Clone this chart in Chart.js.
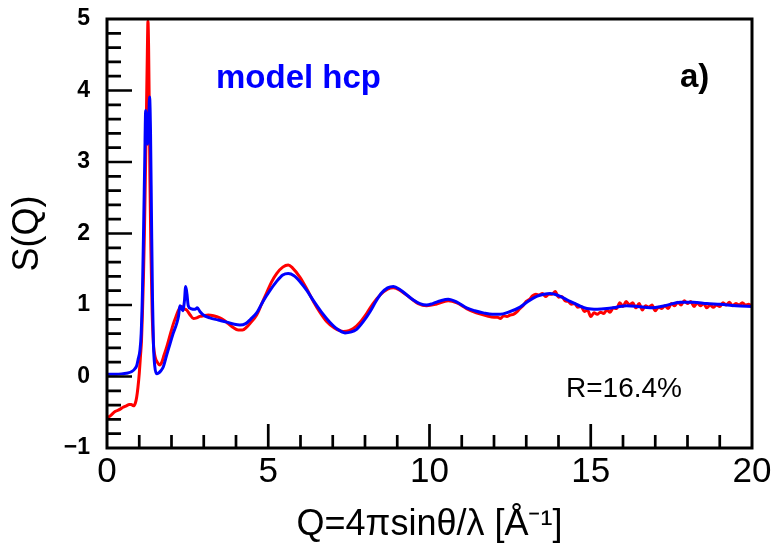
<!DOCTYPE html>
<html>
<head>
<meta charset="utf-8">
<script src="https://cdn.jsdelivr.net/npm/chart.js@4.4.1/dist/chart.umd.min.js"></script>
<style>
  html, body { margin: 0; padding: 0; background: #fff; }
  canvas { display: block; }
</style>
</head>
<body>
<canvas id="sq" width="773" height="551"></canvas>
<script>
// experiment (red)
const qExp = [0, 0.1, 0.25, 0.4, 0.5, 0.6, 0.69, 0.75, 0.82, 0.88, 0.92, 0.96, 1.0, 1.04, 1.07, 1.1, 1.13, 1.16, 1.19, 1.22, 1.25, 1.27, 1.29, 1.31, 1.33, 1.36, 1.4, 1.44, 1.5, 1.56, 1.64, 1.7, 1.77, 1.85, 1.95, 2.06, 2.14, 2.21, 2.27, 2.32, 2.38, 2.47, 2.58, 2.68, 2.78, 2.88, 3.0, 3.14, 3.3, 3.5, 3.65, 3.76, 3.9, 4.07, 4.2, 4.33, 4.45, 4.64, 4.8, 4.95, 5.1, 5.26, 5.45, 5.62, 5.75, 5.98, 6.2, 6.4, 6.6, 6.81, 7.05, 7.33, 7.5, 7.64, 7.85, 8.05, 8.25, 8.47, 8.7, 8.88, 9.1, 9.4, 9.65, 9.91, 10.2, 10.58, 10.85, 11.15, 11.45, 11.77, 12.0,
  12.1, 12.2, 12.3, 12.4, 12.5, 12.6, 12.7, 12.8, 12.9, 13.0, 13.1, 13.2, 13.3, 13.4, 13.5, 13.6, 13.7, 13.8, 13.9, 14.0, 14.1, 14.2, 14.3, 14.4, 14.5, 14.6, 14.7, 14.8, 14.9, 15.0, 15.1, 15.2, 15.3, 15.4, 15.5, 15.6, 15.7, 15.8, 15.9, 16.0, 16.1, 16.2, 16.3, 16.4, 16.5, 16.6, 16.7, 16.8, 16.9, 17.0, 17.1, 17.2, 17.3, 17.4, 17.5, 17.6, 17.7, 17.8, 17.9, 18.0, 18.1, 18.2, 18.3, 18.4, 18.5, 18.6, 18.7, 18.8, 18.9, 19.0, 19.1, 19.2, 19.3, 19.4, 19.5, 19.6, 19.7, 19.8, 19.9, 20.0];
const sExp = [-0.58, -0.55, -0.49, -0.46, -0.43, -0.41, -0.39, -0.39, -0.41, -0.37, -0.29, -0.15, 0.04, 0.3, 0.5, 0.9, 1.39, 2.0, 2.8, 3.6, 4.5, 4.97, 4.6, 3.8, 2.8, 1.8, 0.9, 0.46, 0.26, 0.2, 0.16, 0.2, 0.3, 0.41, 0.57, 0.74, 0.84, 0.92, 0.97, 0.98, 0.95, 0.93, 0.86, 0.81, 0.82, 0.84, 0.85, 0.86, 0.85, 0.82, 0.78, 0.74, 0.69, 0.65, 0.65, 0.69, 0.75, 0.86, 1.02, 1.17, 1.32, 1.44, 1.53, 1.56, 1.52, 1.39, 1.22, 1.05, 0.9, 0.77, 0.68, 0.63, 0.64, 0.67, 0.76, 0.88, 1.02, 1.14, 1.22, 1.24, 1.2, 1.1, 1.02, 0.99, 1.01, 1.06, 1.03, 0.95, 0.89, 0.85, 0.83,
  0.83, 0.81, 0.85, 0.84, 0.86, 0.87, 0.9, 0.95, 0.99, 1.05, 1.08, 1.13, 1.15, 1.14, 1.16, 1.12, 1.15, 1.15, 1.19, 1.11, 1.12, 1.06, 1.05, 1.01, 1.02, 0.97, 0.98, 0.91, 0.93, 0.84, 0.89, 0.87, 0.9, 0.88, 0.93, 0.9, 0.96, 0.95, 1.03, 0.98, 1.05, 1.0, 1.03, 0.96, 1.02, 0.93, 0.99, 0.97, 1.0, 0.92, 0.97, 0.95, 0.99, 0.95, 1.02, 0.99, 1.04, 1.0, 1.06, 1.02, 1.05, 0.98, 1.03, 0.99, 1.02, 0.96, 1.0, 0.97, 1.0, 0.98, 1.03, 1.0, 1.04, 0.99, 1.02, 1.0, 1.03, 1.0, 1.01, 0.98];

// model hcp (blue)
const qModel = [0, 0.3, 0.5, 0.65, 0.77, 0.85, 0.92, 0.97, 1.02, 1.06, 1.1, 1.14, 1.17, 1.2, 1.23, 1.26, 1.29, 1.32, 1.35, 1.38, 1.41, 1.44, 1.48, 1.54, 1.6, 1.67, 1.75, 1.85, 1.95, 2.05, 2.16, 2.22, 2.26, 2.3, 2.35, 2.4, 2.44, 2.48, 2.52, 2.6, 2.73, 2.8, 2.88, 2.99, 3.19, 3.45, 3.71, 3.95, 4.12, 4.3, 4.45, 4.64, 4.85, 5.05, 5.26, 5.45, 5.62, 5.8, 5.98, 6.2, 6.4, 6.65, 6.91, 7.15, 7.38, 7.55, 7.74, 7.95, 8.16, 8.35, 8.52, 8.7, 8.88, 9.1, 9.3, 9.5, 9.7, 9.91, 10.1, 10.35, 10.58, 10.85, 11.15, 11.4, 11.67, 11.95, 12.19, 12.45, 12.81, 13.05, 13.32, 13.55, 13.74, 13.95, 14.15, 14.36, 14.6, 14.88, 15.2, 15.5, 15.8, 16.11, 16.45, 16.84, 17.3, 17.77, 18.18, 18.6, 19.01, 19.5, 20];
const sModel = [0.03, 0.03, 0.04, 0.05, 0.07, 0.1, 0.15, 0.25, 0.36, 0.6, 1.2, 2.2, 3.0, 3.72, 3.6, 3.25, 3.5, 3.91, 3.4, 2.2, 1.1, 0.45, 0.15, 0.04, 0.05, 0.08, 0.14, 0.3, 0.45, 0.6, 0.74, 0.85, 0.99, 0.97, 0.92, 1.05, 1.26, 1.15, 0.99, 0.95, 0.94, 0.96, 0.91, 0.86, 0.82, 0.79, 0.76, 0.73, 0.72, 0.74, 0.8, 0.89, 1.06, 1.2, 1.33, 1.42, 1.44, 1.41, 1.33, 1.2, 1.06, 0.9, 0.76, 0.66, 0.61, 0.62, 0.66, 0.77, 0.91, 1.06, 1.17, 1.24, 1.26, 1.21, 1.14, 1.07, 1.02, 1.0, 1.02, 1.06, 1.08, 1.04, 0.96, 0.92, 0.89, 0.87, 0.87, 0.9, 0.97, 1.05, 1.12, 1.15, 1.16, 1.14, 1.1, 1.05, 1.0, 0.95, 0.94, 0.95, 0.97, 0.99, 0.98, 0.96, 0.99, 1.04, 1.04, 1.02, 1.01, 0.99, 0.98];

const xTickLabels = [0, 5, 10, 15, 20];
const yTickLabels = [-1, 0, 1, 2, 3, 4, 5];

const FONT = "'Liberation Sans', Arial, Helvetica, sans-serif";

const toPoints = (qs, ss) => qs.map((q, i) => ({ x: q, y: ss[i] }));

// frame + inward tick marks + in-plot text
const framePlugin = {
  id: "frameAndText",
  afterDatasetsDraw: (chart) => {
    const ctx = chart.ctx;
    const a = chart.chartArea;
    const xs = chart.scales.x;
    const ys = chart.scales.y;
    ctx.save();
    ctx.strokeStyle = "#000";
    ctx.lineWidth = 2.7;
    ctx.beginPath();
    // x ticks every 1, major every 5
    for (let v = 1; v < 20; v++) {
      const px = xs.getPixelForValue(v);
      const len = v % 5 === 0 ? 24 : 13;
      ctx.moveTo(px, a.bottom);
      ctx.lineTo(px, a.bottom - len);
    }
    // y ticks every 0.2, major every 1
    for (let k = 1; k < 30; k++) {
      const v = -1 + k * 0.2;
      const py = ys.getPixelForValue(v);
      const len = k % 5 === 0 ? 25 : 14;
      ctx.moveTo(a.left, py);
      ctx.lineTo(a.left + len, py);
    }
    ctx.stroke();
    ctx.lineWidth = 3;
    ctx.strokeRect(a.left, a.top, a.right - a.left, a.bottom - a.top);

    ctx.textBaseline = "alphabetic";
    ctx.textAlign = "left";
    ctx.fillStyle = "#0000ff";
    ctx.font = "bold 33px " + FONT;
    ctx.fillText("model hcp", 216, 88);
    ctx.fillStyle = "#000";
    ctx.font = "bold 33px " + FONT;
    ctx.fillText("a)", 680, 87);
    ctx.font = "28px " + FONT;
    ctx.fillText("R=16.4%", 566, 397);
    ctx.restore();
  },
};

new Chart(document.getElementById("sq").getContext("2d"), {
  type: "line",
  data: {
    datasets: [
      {
        label: "model hcp",
        data: toPoints(qModel, sModel),
        borderColor: "#0000ff",
        borderWidth: 3,
        pointRadius: 0,
        cubicInterpolationMode: "monotone",
        order: 1,
      },
      {
        label: "experiment",
        data: toPoints(qExp, sExp),
        borderColor: "#ff0000",
        borderWidth: 3,
        pointRadius: 0,
        cubicInterpolationMode: "monotone",
        order: 2,
      },
    ],
  },
  options: {
    responsive: false,
    animation: false,
    devicePixelRatio: 1,
    layout: { padding: { top: 19, right: 21, left: 0, bottom: 0 } },
    plugins: {
      legend: { display: false },
      tooltip: { enabled: false },
    },
    scales: {
      x: {
        type: "linear",
        min: 0,
        max: 20,
        afterFit: (s) => { s.height = 103; s.paddingLeft = 0; s.paddingRight = 0; },
        afterBuildTicks: (s) => { s.ticks = xTickLabels.map((v) => ({ value: v })); },
        grid: { display: false, drawTicks: false },
        border: { display: false },
        ticks: {
          color: "#000",
          padding: 3,
          maxRotation: 0,
          font: { family: FONT, size: 35 },
        },
        title: {
          display: true,
          text: "Q=4πsinθ/λ [Å⁻¹]",
          color: "#000",
          font: { family: FONT, size: 36 },
          padding: { top: 0, bottom: 4 },
        },
      },
      y: {
        type: "linear",
        min: -1,
        max: 5,
        afterFit: (s) => { s.width = 107; s.paddingTop = 0; s.paddingBottom = 0; },
        afterBuildTicks: (s) => { s.ticks = yTickLabels.map((v) => ({ value: v })); },
        grid: { display: false, drawTicks: false },
        border: { display: false },
        ticks: {
          color: "#000",
          padding: 17,
          font: { family: FONT, size: 23, weight: "bold" },
          callback: (v) => (v < 0 ? "\u2212" + Math.abs(v) : String(v)),
        },
        title: {
          display: true,
          text: "S(Q)",
          color: "#000",
          font: { family: FONT, size: 36 },
          padding: { top: 6, bottom: 0 },
        },
      },
    },
  },
  plugins: [framePlugin],
});
</script>
</body>
</html>
